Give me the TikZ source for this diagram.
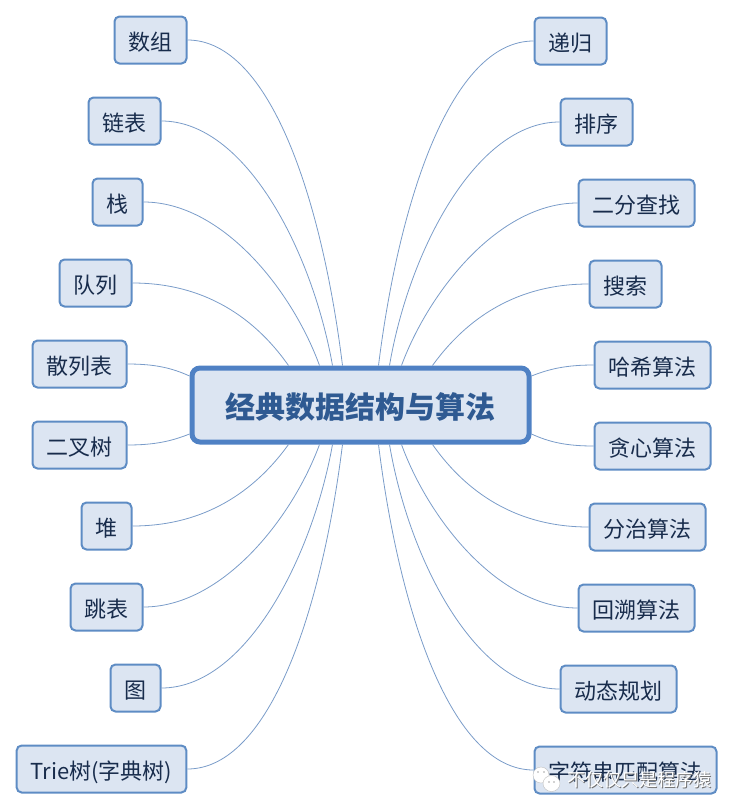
\documentclass[tikz,border=0pt]{standalone}
\usepackage{fontspec}
\setmainfont{Noto Sans CJK SC}
\definecolor{leaffill}{HTML}{DCE5F2}
\definecolor{leafline}{HTML}{5E8CC4}
\definecolor{leaftext}{HTML}{182C4C}
\definecolor{rootline}{HTML}{4F81C4}
\definecolor{roottext}{HTML}{2F5A92}
\definecolor{linkline}{HTML}{7A9CC9}
\tikzset{
  leaf/.style={draw=leafline,fill=leaffill,text=leaftext,line width=2pt,rounded corners=5pt,
    inner xsep=14pt,inner ysep=0pt,minimum height=47pt,text height=20pt,text depth=0pt,
    font=\fontsize{22}{24}\selectfont},
  root/.style={draw=rootline,fill=leaffill,text=roottext,line width=5pt,rounded corners=8pt,
    minimum width=337pt,minimum height=74pt,text height=26pt,text depth=0pt,
    font=\fontsize{30}{32}\selectfont\bfseries},
  link/.style={draw=linkline,line width=0.8pt},
  bubble/.style={fill=white,draw=black!25,line width=0.4pt}
}
\begin{document}
\begin{tikzpicture}[x=1pt,y=-1pt]
\useasboundingbox (0,0) rectangle (734,811);
\node[root] (root) at (360.5,405) {经典数据结构与算法};
% left side
\node[leaf] (arr) at (150.5,40) {数组};
\node[leaf] (list) at (124.5,121) {链表};
\node[leaf] (stack) at (117.5,202) {栈};
\node[leaf] (queue) at (95.5,283) {队列};
\node[leaf] (hash) at (79.5,364) {散列表};
\node[leaf] (btree) at (79.5,445) {二叉树};
\node[leaf] (heap) at (106.5,526) {堆};
\node[leaf] (skip) at (106.5,607) {跳表};
\node[leaf] (graph) at (135.5,688) {图};
\node[leaf] (trie) at (101.5,769) {Trie树(字典树)};
% right side
\node[leaf] (rec) at (570.5,41) {递归};
\node[leaf] (sort) at (596.5,122) {排序};
\node[leaf] (bin) at (636.5,203) {二分查找};
\node[leaf] (search) at (625.5,284) {搜索};
\node[leaf] (hashalg) at (652.5,365) {哈希算法};
\node[leaf] (greedy) at (652.5,446) {贪心算法};
\node[leaf] (divide) at (647.5,527) {分治算法};
\node[leaf] (back) at (636.5,608) {回溯算法};
\node[leaf] (dp) at (618.5,689) {动态规划};
\node[leaf] (match) at (625.5,770) {字符串匹配算法};
% left links
\draw[link] (arr.east) .. controls (270,40) and (322,200) .. ([xshift=-18pt]root.north);
\draw[link] (list.east) .. controls (245,121) and (312,250) .. ([xshift=-28pt]root.north);
\draw[link] (stack.east) .. controls (222,202) and (292,290) .. ([xshift=-41pt]root.north);
\draw[link] (queue.east) .. controls (212,283) and (260,325) .. ([xshift=-72pt]root.north);
\draw[link] (hash.east) .. controls (155,364) and (172,368) .. ([yshift=29pt]root.west);
\draw[link] (btree.east) .. controls (155,445) and (172,441) .. ([yshift=-29pt]root.west);
\draw[link] (heap.east) .. controls (212,526) and (260,484) .. ([xshift=-72pt]root.south);
\draw[link] (skip.east) .. controls (222,607) and (292,519) .. ([xshift=-41pt]root.south);
\draw[link] (graph.east) .. controls (245,688) and (312,559) .. ([xshift=-28pt]root.south);
\draw[link] (trie.east) .. controls (270,769) and (322,609) .. ([xshift=-18pt]root.south);
% right links
\draw[link] (rec.west) .. controls (451,41) and (399,201) .. ([xshift=18pt]root.north);
\draw[link] (sort.west) .. controls (476,122) and (409,251) .. ([xshift=29pt]root.north);
\draw[link] (bin.west) .. controls (499,203) and (429,291) .. ([xshift=41pt]root.north);
\draw[link] (search.west) .. controls (509,284) and (461,326) .. ([xshift=72pt]root.north);
\draw[link] (hashalg.west) .. controls (566,365) and (549,369) .. ([yshift=29pt]root.east);
\draw[link] (greedy.west) .. controls (566,446) and (549,442) .. ([yshift=-29pt]root.east);
\draw[link] (divide.west) .. controls (509,527) and (461,485) .. ([xshift=72pt]root.south);
\draw[link] (back.west) .. controls (499,608) and (429,520) .. ([xshift=41pt]root.south);
\draw[link] (dp.west) .. controls (476,689) and (409,560) .. ([xshift=29pt]root.south);
\draw[link] (match.west) .. controls (451,770) and (399,610) .. ([xshift=18pt]root.south);
% watermark
\path[bubble] (541,775) ellipse (8pt and 8pt);
\path[bubble] (551.5,783.5) ellipse (8.5pt and 8pt);
\fill[black!35] (538,772) circle (0.9pt) (544,772) circle (0.9pt) (549,782) circle (0.8pt) (554,782) circle (0.8pt);
\node[text=black!55,font=\fontsize{18}{20}\selectfont] (markshade) at (640.5,780.5) {不仅仅只是程序猿};
\node[text=white,font=\fontsize{18}{20}\selectfont] (marktext) at (639.5,779.5) {不仅仅只是程序猿};
\end{tikzpicture}
\end{document}
